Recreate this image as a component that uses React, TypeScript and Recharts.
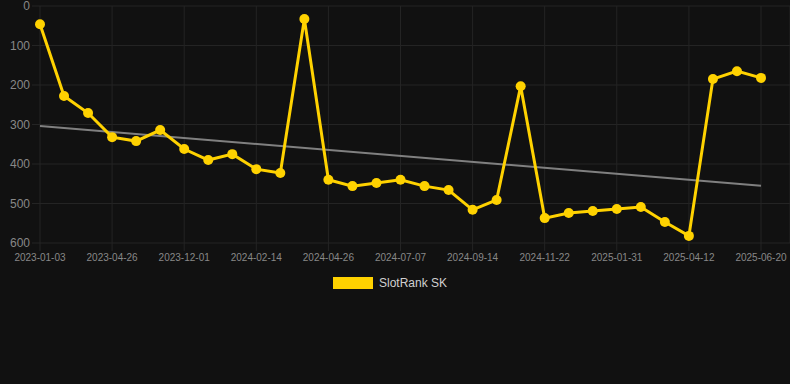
import { LineChart, Line, XAxis, YAxis, CartesianGrid } from "recharts";

const dates = [
  "2023-01-03", "2023-02-10", "2023-03-19", "2023-04-26", "2023-07-08", "2023-09-19",
  "2023-12-01", "2023-12-26", "2024-01-20", "2024-02-14", "2024-03-09", "2024-04-02",
  "2024-04-26", "2024-05-20", "2024-06-13", "2024-07-07", "2024-07-30", "2024-08-22",
  "2024-09-14", "2024-10-07", "2024-10-30", "2024-11-22", "2024-12-15", "2025-01-08",
  "2025-01-31", "2025-02-23", "2025-03-19", "2025-04-12", "2025-05-05", "2025-05-28",
  "2025-06-20",
];

const rankSK = [
  46, 228, 271, 332, 342, 314, 362, 390, 375, 413, 423, 33, 440, 456, 448, 440,
  456, 466, 516, 491, 203, 537, 524, 519, 514, 509, 547, 582, 185, 165, 182,
];

// regression line: only its two ends, drawn straight between them
const trendStart = 304;
const trendEnd = 455;

const tickDates = [
  "2023-01-03", "2023-04-26", "2023-12-01", "2024-02-14", "2024-04-26", "2024-07-07",
  "2024-09-14", "2024-11-22", "2025-01-31", "2025-04-12", "2025-06-20",
];

const yTicks = [0, 100, 200, 300, 400, 500, 600];

const YELLOW = "#ffd200";
const GRID = "#242424";
const LABEL = "#888888";
const FONT = '"Liberation Sans", Arial, sans-serif';

const data = dates.map((d, i) => ({
  date: d,
  rank: rankSK[i],
  trend: i === 0 ? trendStart : i === dates.length - 1 ? trendEnd : null,
}));

const App = () => (
  <div
    style={{
      position: "fixed",
      left: 0,
      top: 0,
      width: 790,
      height: 384,
      background: "#111111",
      fontFamily: FONT,
    }}
  >
    <LineChart width={790} height={384} data={data} margin={{ top: 6, right: 0, bottom: 111, left: 0 }}>
      <CartesianGrid stroke={GRID} strokeWidth={1} />
      <XAxis
        dataKey="date"
        ticks={tickDates}
        interval={0}
        height={30}
        padding={{ left: 0, right: 29 }}
        axisLine={false}
        tickLine={{ stroke: GRID }}
        tickSize={8}
        tickMargin={3}
        tick={{ fill: LABEL, fontSize: 10, fontFamily: FONT }}
      />
      <YAxis
        reversed
        domain={[0, 600]}
        ticks={yTicks}
        interval={0}
        width={40}
        axisLine={false}
        tickLine={{ stroke: GRID }}
        tickSize={8}
        tickMargin={2}
        tick={{ fill: LABEL, fontSize: 12, fontFamily: FONT }}
      />
      <Line
        dataKey="trend"
        stroke="#808080"
        strokeWidth={2}
        dot={false}
        connectNulls
        isAnimationActive={false}
      />
      <Line
        dataKey="rank"
        stroke={YELLOW}
        strokeWidth={3}
        dot={{ r: 5, fill: YELLOW, stroke: "none" }}
        activeDot={false}
        isAnimationActive={false}
      />
    </LineChart>
    {/* Legend */}
    <div
      style={{
        position: "absolute",
        left: 333,
        top: 276,
        display: "flex",
        alignItems: "center",
        gap: 6,
        fontSize: 12,
        color: "#d0d0d0",
      }}
    >
      <span style={{ width: 40, height: 12, background: YELLOW, display: "inline-block" }} />
      <span>SlotRank SK</span>
    </div>
  </div>
);

export default App;
